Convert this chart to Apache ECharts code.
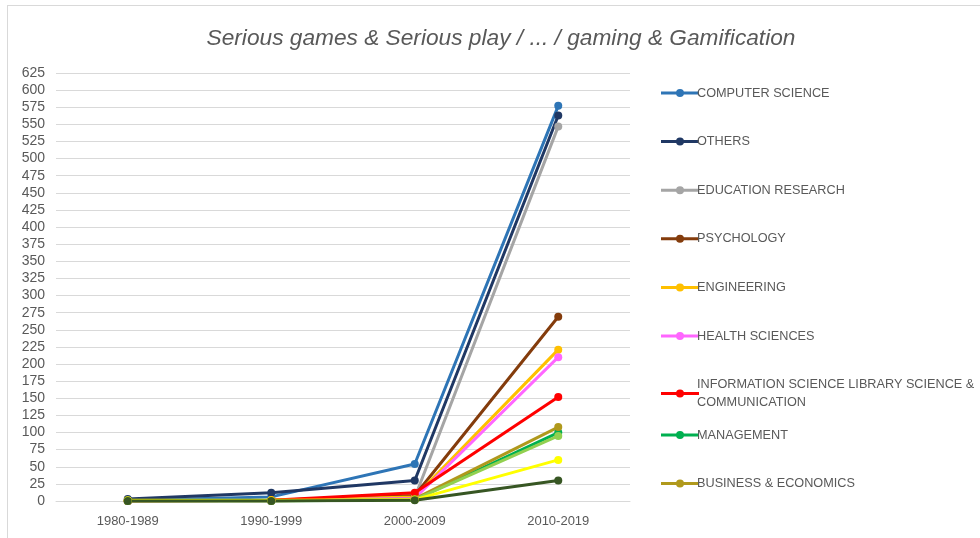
<!DOCTYPE html>
<html>
<head>
<meta charset="utf-8">
<script src="https://cdn.jsdelivr.net/npm/echarts@6/dist/echarts.min.js"></script>
<style>
html,body{margin:0;padding:0;background:#fff;}
#frame{position:absolute;left:7px;top:5px;width:990px;height:560px;border:1px solid #D9D9D9;pointer-events:none;}
#chart{position:absolute;left:0;top:0;width:980px;height:538px;}
</style>
</head>
<body>
<div id="chart"></div>
<div id="frame"></div>
<script>
const categories = ['1980-1989', '1990-1999', '2000-2009', '2010-2019'];
const yTicks = { min: 0, max: 625, interval: 25 };

const computerScience = [1, 6, 54, 577];
const others = [3, 12, 30, 563];
const educationResearch = [0, 1, 5, 547];
const psychology = [0, 1, 8, 269];
const engineering = [0, 1, 6, 221];
const healthSciences = [0, 0, 4, 210];
const infoScience = [0, 1, 12, 152];
const management = [0, 0, 2, 100];
const businessEconomics = [0, 0, 3, 108];
const series10 = [0, 0, 2, 95];
const series11 = [1, 1, 2, 60];
const series12 = [0, 0, 1, 30];

const seriesDefs = [
  ['COMPUTER SCIENCE', computerScience, '#2E75B6'],
  ['OTHERS', others, '#203864'],
  ['EDUCATION RESEARCH', educationResearch, '#A5A5A5'],
  ['PSYCHOLOGY', psychology, '#843C0C'],
  ['ENGINEERING', engineering, '#FFC000'],
  ['HEALTH SCIENCES', healthSciences, '#FF66FF'],
  ['INFORMATION SCIENCE LIBRARY SCIENCE & COMMUNICATION', infoScience, '#FF0000'],
  ['MANAGEMENT', management, '#00B050'],
  ['BUSINESS & ECONOMICS', businessEconomics, '#B0991C'],
  ['SERIES 10', series10, '#92D050'],
  ['SERIES 11', series11, '#FFFF00'],
  ['SERIES 12', series12, '#375623']
];

const legendNames = seriesDefs.slice(0, 9).map(d => d[0]);
const txt = { color: '#595959', fontFamily: 'Liberation Sans', fontSize: 13 };

const chart = echarts.init(document.getElementById('chart'), null, { renderer: 'canvas' });
const legendCommon = {
  orient: 'vertical',
  left: 656,
  itemWidth: 38,
  itemHeight: 8,
  itemGap: 30.6,
  icon: 'path://M0,2.5 L38,2.5 L38,5.5 L0,5.5 Z M15,4 A4,4 0 1,1 23,4 A4,4 0 1,1 15,4 Z',
  textStyle: { color: '#595959', fontFamily: 'Liberation Sans', fontSize: 12.7, lineHeight: 18, width: 290, overflow: 'break', padding: [0, 0, 0, -7] },
  selectedMode: false
};
chart.setOption({
  backgroundColor: '#fff',
  animation: false,
  title: {
    text: 'Serious games & Serious play / ... / gaming & Gamification',
    left: 496,
    textAlign: 'center',
    top: 22,
    textStyle: { color: '#595959', fontFamily: 'Liberation Sans', fontSize: 22.7, fontStyle: 'italic', fontWeight: 'normal' }
  },
  legend: [
    Object.assign({}, legendCommon, { top: 79, data: legendNames.slice(0, 7) }),
    Object.assign({}, legendCommon, { top: 421, data: legendNames.slice(7, 9) })
  ],
  grid: { left: 56, right: 350, top: 73, bottom: 37 },
  xAxis: {
    type: 'category',
    data: categories,
    boundaryGap: true,
    axisLine: { lineStyle: { color: '#D9D9D9' } },
    axisTick: { show: false },
    axisLabel: Object.assign({}, txt, { margin: 14 })
  },
  yAxis: {
    type: 'value',
    min: yTicks.min,
    max: yTicks.max,
    interval: yTicks.interval,
    axisLine: { show: false },
    axisTick: { show: false },
    splitLine: { lineStyle: { color: '#D9D9D9', width: 1 } },
    axisLabel: Object.assign({}, txt, { fontSize: 14, margin: 11 })
  },
  series: seriesDefs.map(d => ({
    name: d[0],
    type: 'line',
    data: d[1],
    symbol: 'circle',
    symbolSize: 8,
    showSymbol: true,
    lineStyle: { width: 3, color: d[2] },
    itemStyle: { color: d[2] },
    emphasis: { disabled: true }
  }))
});
</script>
</body>
</html>
